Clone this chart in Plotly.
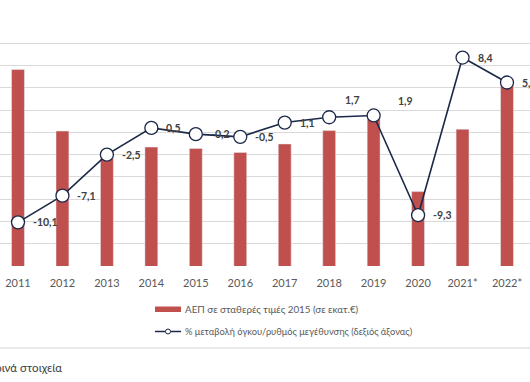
import plotly.graph_objects as go

# ---- data ----
years = ["2011", "2012", "2013", "2014", "2015", "2016", "2017", "2018", "2019", "2020", "2021*", "2022*"]
gdp = [194100, 180300, 174300, 176700, 176400, 175500, 177400, 180400, 183500, 166700, 180700, 190700]
growth = [-10.1, -7.1, -2.5, 0.5, -0.2, -0.5, 1.1, 1.7, 1.9, -9.3, 8.4, 5.6]
bar_name = "ΑΕΠ σε σταθερές τιμές 2015 (σε εκατ.€)"
line_name = "% μεταβολή όγκου/ρυθμός μεγέθυνσης (δεξιός άξονας)"
footnote = "*Προσωρινά στοιχεία"

# ---- style ----
W, H = 530, 382
T, B = 13, 116
PH = H - T - B
BAR_C = "#C0504D"
LINE_C = "#1c2848"
GRID_C = "#d9d9d9"
FONT = "Lato"
GRID_PX = 22.27
y1_min = 150000
y1_top = y1_min + PH / GRID_PX * 5000
y2_min = -15
y2_top = y2_min + PH / GRID_PX * 2.5

def py(ypx):
    return (H - B - ypx) / PH

def px(xpx):
    return xpx / W

idx = list(range(len(years)))

fig = go.Figure()
fig.add_trace(go.Bar(x=idx, y=gdp, name=bar_name, marker_color=BAR_C,
                     width=0.29, yaxis="y", showlegend=False))
fig.add_trace(go.Scatter(x=idx, y=growth, name=line_name, yaxis="y2",
                         mode="lines+markers",
                         line=dict(color=LINE_C, width=1.6),
                         marker=dict(size=13, color="white",
                                     line=dict(color=LINE_C, width=1.3)),
                         showlegend=False, cliponaxis=False))

# data labels
label_shift = {7: (14, 17), 8: (22, 14)}
anns = []
for i, v in zip(idx, growth):
    xs, ys = label_shift.get(i, (13, 0))
    anns.append(dict(x=i, y=v, xref="x", yref="y2",
                     text=f"{v:.1f}".replace(".", ","), showarrow=False,
                     xanchor="left", yanchor="middle", xshift=xs, yshift=ys,
                     font=dict(family=FONT, size=10.5, color="#404040", weight="bold")))

# legend (drawn)
anns.append(dict(x=px(183), y=py(309), xref="paper", yref="paper", text=bar_name,
                 showarrow=False, xanchor="left", yanchor="middle",
                 font=dict(family=FONT, size=9.8, color="#595959")))
anns.append(dict(x=px(183), y=py(331.5), xref="paper", yref="paper", text=line_name,
                 showarrow=False, xanchor="left", yanchor="middle",
                 font=dict(family=FONT, size=9.3, color="#595959")))
anns.append(dict(x=px(64), y=py(367), xref="paper", yref="paper", text=footnote,
                 showarrow=False, xanchor="right", yanchor="middle",
                 font=dict(family=FONT, size=11.5, color="#404040")))

shapes = [
    dict(type="rect", xref="paper", yref="paper", x0=px(155), x1=px(181),
         y0=py(312), y1=py(306.5), fillcolor=BAR_C, line=dict(width=0)),
    dict(type="line", xref="paper", yref="paper", x0=px(155), x1=px(181),
         y0=py(331.5), y1=py(331.5), line=dict(color=LINE_C, width=1.5)),
    dict(type="circle", xref="paper", yref="paper", x0=px(165.5), x1=px(170.5),
         y0=py(334), y1=py(329), fillcolor="white", line=dict(color=LINE_C, width=1)),
    dict(type="line", xref="paper", yref="paper", x0=0, x1=1,
         y0=py(348), y1=py(348), line=dict(color="#e3e3e3", width=1.5)),
]

tick1 = [y1_min + 5000 * k for k in range(11)] + [y1_top - 1]

n = len(years)
scale = (507 - 18) / (n - 1)
x0 = -18 / scale
x1 = x0 + W / scale

fig.update_layout(
    width=W, height=H,
    margin=dict(l=0, r=0, t=T, b=B),
    plot_bgcolor="white", paper_bgcolor="white",
    xaxis=dict(range=[x0, x1], tickmode="array", tickvals=idx, ticktext=years,
               showgrid=False, showline=False, ticks="", zeroline=False,
               ticklabelstandoff=9,
               tickfont=dict(family=FONT, size=11, color="#595959")),
    yaxis=dict(range=[y1_min, y1_top], tickvals=tick1, showticklabels=False,
               showgrid=True, gridcolor=GRID_C, gridwidth=1, zeroline=False,
               showline=False),
    yaxis2=dict(range=[y2_min, y2_top], overlaying="y", side="right",
                showticklabels=False, showgrid=False, zeroline=False,
                showline=False),
    annotations=anns, shapes=shapes, showlegend=False,
)

fig.write_html("out.html", config={"displayModeBar": False},
               post_script="document.body.style.margin='0';document.body.style.overflow='hidden';")
